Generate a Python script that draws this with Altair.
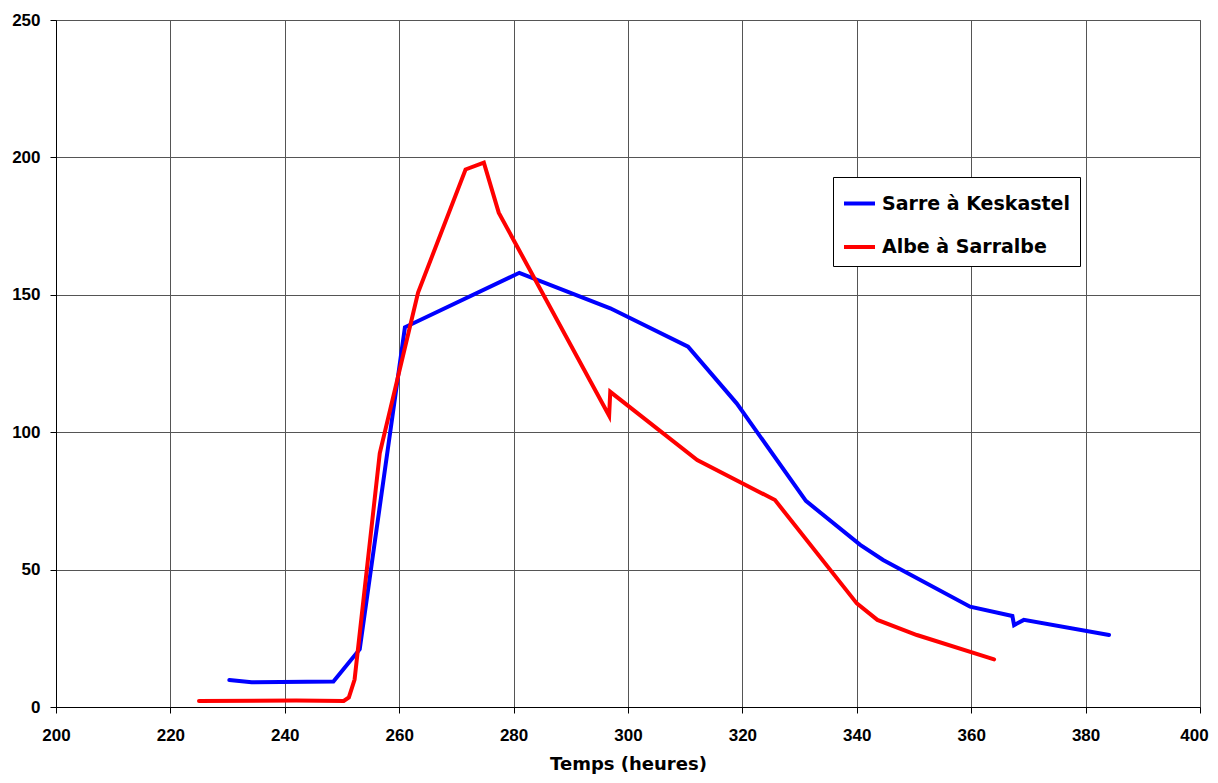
import altair as alt
import pandas as pd

# Sarre à Keskastel
sarre_t = [230.3, 234.2, 248.5, 253.1, 261.0, 281.0, 296.9, 310.5, 319.0, 331.1, 340.6, 344.6, 359.8, 367.2, 367.5, 369.2, 384.1]
sarre_q = [9.8, 9.0, 9.3, 21.0, 138.2, 158.0, 145.1, 131.1, 110.5, 75.0, 59.0, 53.5, 36.5, 33.1, 29.8, 31.7, 26.2]

# Albe à Sarralbe
albe_t = [225.0, 242.0, 250.3, 251.2, 252.2, 256.6, 263.3, 271.6, 274.8, 277.4, 296.7, 296.9, 312.1, 325.7, 340.0, 343.6, 350.5, 364.0]
albe_q = [2.2, 2.4, 2.2, 3.5, 10.0, 92.3, 150.8, 195.6, 198.1, 179.9, 106.0, 114.7, 89.9, 75.3, 37.7, 31.7, 26.2, 17.3]

series_names = ["Sarre à Keskastel", "Albe à Sarralbe"]
series_colors = ["#0000FF", "#FF0000"]

rows = []
for i, (t, q) in enumerate(zip(sarre_t, sarre_q)):
    rows.append({"serie": series_names[0], "t": t, "q": q, "ord": i})
for i, (t, q) in enumerate(zip(albe_t, albe_q)):
    rows.append({"serie": series_names[1], "t": t, "q": q, "ord": i})
df = pd.DataFrame(rows)

x_ticks = list(range(200, 401, 20))
y_ticks = list(range(0, 251, 50))

chart = alt.Chart(df).mark_line(strokeWidth=4, strokeJoin="miter", strokeCap="round").encode(
    x=alt.X("t:Q", scale=alt.Scale(domain=[200, 400], nice=False, zero=False),
            axis=alt.Axis(values=x_ticks, title="Temps (heures)", format="d", labelFlush=False,
                          labelOffset={"condition": {"test": "datum.value == 400", "value": -6}, "value": 0},
                          labelPadding=14, titlePadding=12)),
    y=alt.Y("q:Q", scale=alt.Scale(domain=[0, 250], nice=False),
            axis=alt.Axis(values=y_ticks, title=None, format="d", labelPadding=10, labelFlush=False)),
    color=alt.Color("serie:N", scale=alt.Scale(domain=series_names, range=series_colors),
                    legend=alt.Legend(title=None, orient="none", legendX=777, legendY=157,
                                      symbolType="stroke", symbolSize=961, symbolStrokeWidth=4,
                                      labelFont="DejaVu Sans", labelFontSize=19, labelFontWeight="bold",
                                      labelColor="black", labelOffset=5, rowPadding=15.5,
                                      padding=9, strokeColor="black", fillColor="white",
                                      labelLimit=400)),
    order="ord:Q",
    detail="serie:N",
).properties(
    width=1144, height=687,
    autosize=alt.AutoSizeParams(type="none"),
    padding={"left": 48, "top": 12, "right": 10, "bottom": 68},
).configure_view(
    stroke="#555555", strokeWidth=1
).configure_axis(
    domainColor="black", domainWidth=1, tickColor="black", tickSize=6, tickWidth=1,
    gridColor="#555555", gridWidth=1, grid=True,
    labelFont="Liberation Sans", labelFontSize=17, labelFontWeight="bold", labelColor="black",
    titleFont="DejaVu Sans", titleFontSize=18, titleFontWeight="bold", titleColor="black",
)

chart.save("out.html", embed_options={"renderer": "svg", "actions": False})
